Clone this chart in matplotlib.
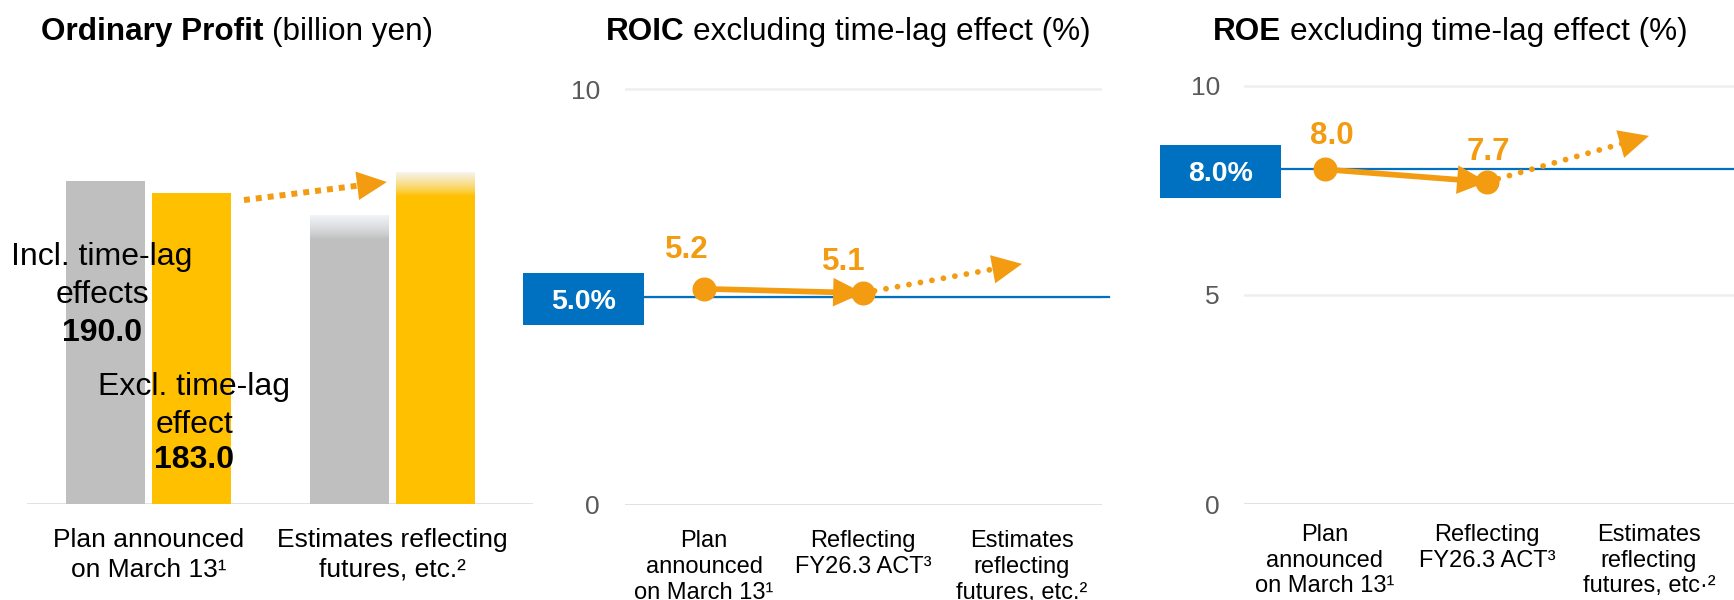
import numpy as np
import matplotlib
matplotlib.use("Agg")
import matplotlib.pyplot as plt
from matplotlib.patches import Rectangle
from matplotlib.colors import to_rgb

plt.rcParams['font.family'] = ['Liberation Sans', 'DejaVu Sans']

# ---------------- data ----------------
profit_groups = ["Plan announced\non March 13\u00b9", "Estimates reflecting\nfutures, etc.\u00b2"]
profit_incl = [190.0, 170.0]          # incl. time-lag effects (billion yen)
profit_excl = [183.0, 195.0]          # excl. time-lag effect (billion yen)
profit_is_estimate = [False, True]    # estimates are drawn with a faded top

roic_categories = ["Plan\nannounced\non March 13\u00b9", "Reflecting\nFY26.3 ACT\u00b3",
                   "Estimates\nreflecting\nfutures, etc.\u00b2"]
roe_categories = ["Plan\nannounced\non March 13\u00b9", "Reflecting\nFY26.3 ACT\u00b3",
                  "Estimates\nreflecting\nfutures, etc\u00b7\u00b2"]
roic_values = [5.2, 5.1]
roe_values = [8.0, 7.7]
roic_target = 5.0
roe_target = 8.0
roic_outlook = 5.8     # level the outlook arrow points to at the third category
roe_outlook = 8.8
pct_ticks = [0, 5, 10]

# ---------------- style ----------------
W, H, DPI = 1734, 600, 100
GRAY = "#BFBFBF"
YELLOW = "#FFC000"
ORANGE = "#F39C12"
BLUE = "#0070C0"
GRID = "#EEEEEE"
BASE = "#D9D9D9"
TICK_GRAY = "#595959"
HEAD_LEN, HEAD_W = 21.5, 10.3   # arrow head size in points

fig = plt.figure(figsize=(W / DPI, H / DPI), dpi=DPI)


def px_axes(left, right, bottom, top):
    ax = fig.add_axes([left / W, 1 - bottom / H, (right - left) / W, (bottom - top) / H])
    ax.patch.set_visible(False)
    for s in ax.spines.values():
        s.set_visible(False)
    return ax


def arrow_head(ax, frm, tip):
    ax.annotate("", xy=tip, xytext=frm,
                arrowprops=dict(arrowstyle=f"-|>,head_length={HEAD_LEN},head_width={HEAD_W}",
                                mutation_scale=1, lw=0, color=ORANGE, shrinkA=0, shrinkB=0),
                annotation_clip=False, zorder=7)


def outlook_arrow(ax, start, tip, lw, dashes, capstyle):
    p0 = ax.transData.transform(start)
    p1 = ax.transData.transform(tip)
    v = p1 - p0
    base = p1 - v / np.hypot(*v) * HEAD_LEN * DPI / 72 * 0.9
    bx, by = ax.transData.inverted().transform(base)
    ax.plot([start[0], bx], [start[1], by], color=ORANGE, lw=lw, dashes=dashes,
            dash_capstyle=capstyle, clip_on=False, zorder=6)
    arrow_head(ax, start, tip)


def title(ax, x_px, bold, rest):
    y = 1 - 40 / H
    t = fig.text(x_px / W, y, bold, fontsize=22.7, fontweight="bold", ha="left", va="baseline")
    ax.annotate(rest, xy=(1, 0), xycoords=t, xytext=(6.3, 0), textcoords="offset points",
                fontsize=22.7, ha="left", va="bottom", annotation_clip=False)


# ---------------- ordinary profit (bars) ----------------
ax1 = px_axes(27, 533, 504, 113)
ax1.set_yticks([])
x = np.arange(len(profit_groups))
bw, off = 0.3244, 0.1766
fade_len = 14.0


def faded_top(ax, xc, h, color, top_color):
    n = 64
    t = np.linspace(0, 1, n) ** 0.8          # 0 at the solid part, 1 at the top
    c0, c1 = np.array(to_rgb(color)), np.array(to_rgb(top_color))
    grad = (c0[None, :] * (1 - t[:, None]) + c1[None, :] * t[:, None])[:, None, :]
    ax.imshow(grad, extent=[xc - bw / 2, xc + bw / 2, h - fade_len, h], origin="lower",
              aspect="auto", interpolation="bilinear", zorder=3)


for i in range(len(x)):
    ax1.bar(x[i] - off, profit_incl[i], bw, color=GRAY, lw=0, zorder=2)
    ax1.bar(x[i] + off, profit_excl[i], bw, color=YELLOW, lw=0, zorder=2)
    if profit_is_estimate[i]:
        faded_top(ax1, x[i] - off, profit_incl[i], GRAY, "#F1F4F8")
        faded_top(ax1, x[i] + off, profit_excl[i], YELLOW, "#F6F4EE")

ax1.axhline(0, color=BASE, lw=1.8, zorder=1)
ax1.set_xlim(-0.499, 1.579)
ax1.set_ylim(0, 230)
ax1.set_xticks(x, profit_groups)
ax1.tick_params(axis="x", length=0, pad=17.6, labelsize=19)
for lbl in ax1.get_xticklabels():
    lbl.set_linespacing(1.29)

# multi-line labels: va="baseline" anchors the last line's baseline
ax1.text(x[0] - off - 0.014, 118.2, "Incl. time-lag\neffects", fontsize=23, ha="center",
         va="baseline", linespacing=1.33, zorder=8)
ax1.text(x[0] - off - 0.014, 95.6, f"{profit_incl[0]:.1f}", fontsize=23, fontweight="bold",
         ha="center", va="baseline", zorder=8)
ax1.text(x[0] + off + 0.011, 42.0, "Excl. time-lag\neffect", fontsize=23, ha="center",
         va="baseline", linespacing=1.33, zorder=8)
ax1.text(x[0] + off + 0.011, 21.0, f"{profit_excl[0]:.1f}", fontsize=23, fontweight="bold",
         ha="center", va="baseline", zorder=8)

outlook_arrow(ax1, (0.392, 178.8), (0.979, 189.4), lw=4.3, dashes=(1, 1), capstyle="butt")

title(ax1, 41, "Ordinary Profit", "(billion yen)")


# ---------------- ROIC / ROE (lines) ----------------
def line_panel(rect, xlim, line_right, box, cats, values, target, outlook,
               label_offsets, tick_pad, tick_ls, ytick_pad):
    ax = px_axes(*rect)
    ax.set_xlim(*xlim)
    ax.set_ylim(0, 11)
    for t in pct_ticks:
        ax.axhline(t, color=BASE if t == 0 else GRID, lw=1.8, zorder=1)
    # a tick that sits under the target tag is left unlabelled
    ax.set_yticks(pct_ticks, ["" if t == target else str(t) for t in pct_ticks])
    ax.tick_params(axis="y", length=0, pad=ytick_pad, labelsize=19, labelcolor=TICK_GRAY)
    ax.set_xticks(range(len(cats)), cats)
    ax.tick_params(axis="x", length=0, pad=tick_pad, labelsize=17)
    for lbl in ax.get_xticklabels():
        lbl.set_linespacing(tick_ls)

    # target line with its tag
    bx0, bw_, bh = box
    ax.plot([bx0 + bw_, line_right], [target, target], color=BLUE, lw=1.6,
            clip_on=False, zorder=3)
    ax.add_patch(Rectangle((bx0, target - 0.05 - bh / 2), bw_, bh, facecolor=BLUE,
                           edgecolor="none", clip_on=False, zorder=6))
    ax.text(bx0 + bw_ / 2, target - 0.05, f"{target:.1f}%", color="white", fontsize=20.5,
            fontweight="bold", ha="center", va="center_baseline", zorder=7)

    # actual values
    xs = np.arange(len(values))
    ax.plot(xs, values, color=ORANGE, lw=4.1, marker="o", ms=17.3, mew=0,
            clip_on=False, zorder=5)
    arrow_head(ax, (xs[-2], values[-2]), (xs[-1], values[-1]))
    for xi, v, (dx, dy) in zip(xs, values, label_offsets):
        ax.annotate(f"{v:.1f}", xy=(xi, v), xytext=(dx, dy), textcoords="offset points",
                    color=ORANGE, fontsize=22.5, fontweight="bold", ha="center",
                    va="baseline", zorder=8)

    # outlook
    outlook_arrow(ax, (xs[-1], values[-1]), (len(cats) - 1, outlook), lw=4.2,
                  dashes=(0.001, 2.0), capstyle="round")
    return ax


ax2 = line_panel((625, 1102, 505, 47.7), (-0.497, 2.503), 2.547, (-1.138, 0.761, 1.251),
                 roic_categories, roic_values, roic_target, roic_outlook,
                 [(-12.2, 21.9), (-13.7, 16.3)], tick_pad=17.7, tick_ls=1.24, ytick_pad=18)
title(ax2, 606, "ROIC", "excluding time-lag effect (%)")

ax3 = line_panel((1244, 1734, 504.3, 43.8), (-0.5, 2.525), 2.525, (-1.019, 0.747, 1.266),
                 roe_categories, roe_values, roe_target, roe_outlook,
                 [(5.0, 18.5), (0.7, 15.6)], tick_pad=13.9, tick_ls=1.23, ytick_pad=17.3)
title(ax3, 1213, "ROE", "excluding time-lag effect (%)")

fig.savefig("out.png", dpi=DPI, facecolor="white")
